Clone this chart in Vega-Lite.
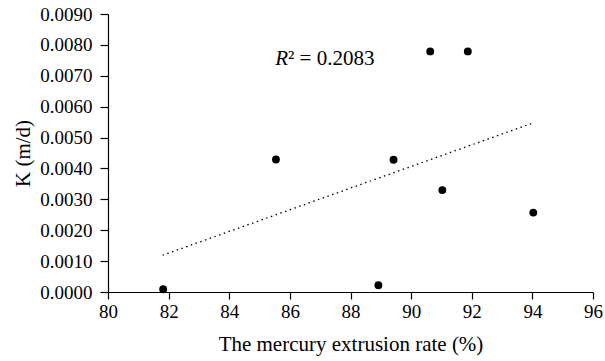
{
  "$schema": "https://vega.github.io/schema/vega-lite/v6.json",
  "width": 485,
  "height": 278,
  "autosize": {"type": "none"},
  "padding": {"left": 108, "top": 14, "right": 12, "bottom": 69},
  "background": "white",
  "config": {
    "view": {"stroke": null},
    "font": "Liberation Serif",
    "axis": {
      "grid": false,
      "domainColor": "black",
      "domainWidth": 1.2,
      "tickColor": "black",
      "tickWidth": 1.2,
      "labelColor": "black",
      "titleColor": "black",
      "labelFont": "Liberation Serif",
      "titleFont": "Liberation Serif",
      "labelFontSize": 19,
      "titleFontSize": 21,
      "titleFontWeight": "normal",
      "labelOverlap": false,
      "labelBound": false,
      "labelFlush": false
    }
  },
  "datasets": {
    "points": [
      {"rate": 81.82, "k": 0.00009},
      {"rate": 85.54, "k": 0.00429},
      {"rate": 89.42, "k": 0.00428},
      {"rate": 90.63, "k": 0.00779},
      {"rate": 91.87, "k": 0.00779},
      {"rate": 88.92, "k": 0.00022},
      {"rate": 91.03, "k": 0.00330},
      {"rate": 94.03, "k": 0.00257}
    ],
    "trend": [
      {"rate": 81.8, "k": 0.00119},
      {"rate": 94.07, "k": 0.00549}
    ],
    "labelR": [{"rate": 85.94, "k": 0.00735, "text": "R"}],
    "labelRest": [{"rate": 85.94, "k": 0.00735, "text": "² = 0.2083"}]
  },
  "layer": [
    {
      "data": {"name": "trend"},
      "mark": {"type": "line", "color": "black", "strokeWidth": 1.3, "strokeDash": [1.5, 3.5]},
      "encoding": {
        "x": {
          "field": "rate", "type": "quantitative",
          "scale": {"domain": [80, 96], "nice": false, "zero": false},
          "axis": {"values": [80, 82, 84, 86, 88, 90, 92, 94, 96], "tickCount": 20, "tickSize": 7, "labelPadding": 3, "title": "The mercury extrusion rate (%)", "titlePadding": 12}
        },
        "y": {
          "field": "k", "type": "quantitative",
          "scale": {"domain": [0, 0.009], "nice": false},
          "axis": {"values": [0, 0.001, 0.002, 0.003, 0.004, 0.005, 0.006, 0.007, 0.008, 0.009], "tickCount": 20, "format": ".4f", "tickSize": 8, "labelPadding": 8, "title": "K (m/d)", "titlePadding": 6}
        }
      }
    },
    {
      "data": {"name": "points"},
      "mark": {"type": "point", "filled": true, "color": "black", "size": 62, "opacity": 1},
      "encoding": {
        "x": {"field": "rate", "type": "quantitative"},
        "y": {"field": "k", "type": "quantitative"}
      }
    },
    {
      "data": {"name": "labelR"},
      "mark": {"type": "text", "align": "right", "baseline": "alphabetic", "fontSize": 21, "fontStyle": "italic", "color": "black", "font": "Liberation Serif"},
      "encoding": {
        "x": {"field": "rate", "type": "quantitative"},
        "y": {"field": "k", "type": "quantitative"},
        "text": {"field": "text"}
      }
    },
    {
      "data": {"name": "labelRest"},
      "mark": {"type": "text", "align": "left", "baseline": "alphabetic", "fontSize": 21, "color": "black", "font": "Liberation Serif"},
      "encoding": {
        "x": {"field": "rate", "type": "quantitative"},
        "y": {"field": "k", "type": "quantitative"},
        "text": {"field": "text"}
      }
    }
  ]
}
